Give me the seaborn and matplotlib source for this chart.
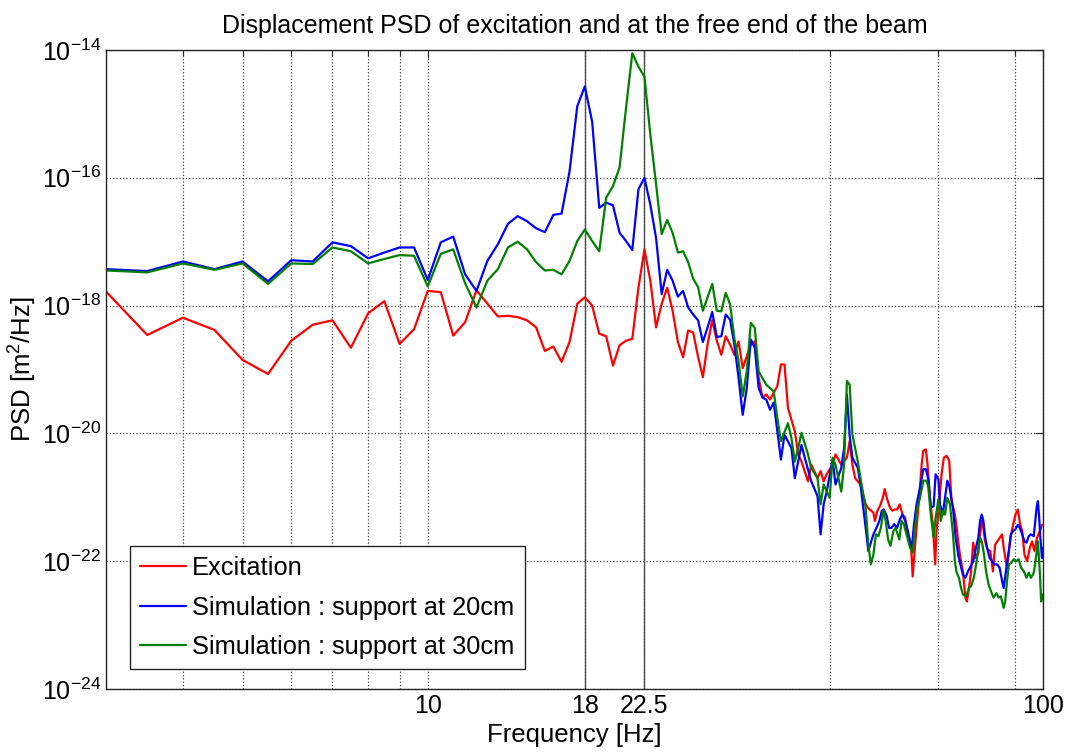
import numpy as np
import pandas as pd
import matplotlib
matplotlib.use('Agg')
import matplotlib.pyplot as plt
import seaborn as sns
from matplotlib.ticker import FixedLocator, NullLocator, NullFormatter, FuncFormatter

# Frequences communes (pas de 0.5 Hz) pour la partie basse du spectre
freq_low = [3.0, 3.5, 4.0, 4.5, 5.0, 5.5, 6.0, 6.5, 7.0, 7.5, 8.0, 8.5, 9.0, 9.5,
            10.0, 10.5, 11.0, 11.5, 12.0, 12.5, 13.0, 13.5, 14.0, 14.5, 15.0, 15.5,
            16.0, 16.5, 17.0, 17.5, 18.0, 18.5, 19.0, 19.5, 20.0, 20.5, 21.0, 21.5,
            22.0, 22.5, 23.0, 23.5, 24.0, 24.5, 25.0, 25.5, 26.0, 26.5, 27.0, 27.5,
            28.0, 28.5, 29.0, 29.5]

# log10(PSD)
exc_low = [-17.78, -18.46, -18.19, -18.38, -18.85, -19.07, -18.55, -18.30, -18.23, -18.66,
           -18.12, -17.93, -18.60, -18.37, -17.77, -17.79, -18.47, -18.26, -17.76, -17.97,
           -18.17, -18.16, -18.18, -18.23, -18.34, -18.71, -18.64, -18.88, -18.57, -17.97,
           -17.87, -18.00, -18.44, -18.48, -18.94, -18.62, -18.55, -18.52, -17.72, -17.12,
           -17.61, -18.34, -17.97, -17.72, -18.08, -18.57, -18.81, -18.39, -18.42, -18.80,
           -19.12, -18.60, -18.23, -18.55]
sim20_low = [-17.43, -17.46, -17.31, -17.43, -17.31, -17.62, -17.29, -17.31, -17.01, -17.07,
             -17.26, -17.17, -17.09, -17.09, -17.60, -17.01, -16.92, -17.51, -17.77, -17.30,
             -17.04, -16.72, -16.60, -16.68, -16.79, -16.85, -16.58, -16.56, -15.90, -14.88,
             -14.57, -15.12, -16.47, -16.39, -16.43, -16.86, -16.99, -17.13, -16.18, -16.00,
             -16.42, -16.94, -17.82, -17.44, -17.61, -17.86, -17.77, -18.03, -18.14, -18.23,
             -18.57, -18.34, -18.10, -18.49]
sim30_low = [-17.45, -17.48, -17.34, -17.44, -17.34, -17.66, -17.34, -17.35, -17.09, -17.15,
             -17.34, -17.27, -17.21, -17.22, -17.70, -17.19, -17.12, -17.65, -18.03, -17.61,
             -17.43, -17.09, -17.00, -17.12, -17.32, -17.45, -17.44, -17.51, -17.30, -16.99,
             -16.81, -16.99, -17.15, -16.31, -16.13, -15.84, -14.91, -14.05, -14.26, -14.42,
             -15.32, -16.10, -16.88, -16.66, -16.86, -17.17, -17.15, -17.32, -17.58, -17.71,
             -18.08, -17.87, -17.66, -18.08]

# Partie haute (>= 30 Hz)
exc_freq_high = [30.0, 30.5, 31.0, 31.5, 32.0, 32.5, 33.5, 34.0, 34.5, 35.0, 35.5, 36.0, 37.0,
                 37.5, 38.0, 38.5, 39.5, 40.0, 40.5, 41.5, 42.0, 43.0, 43.5, 44.0, 44.5, 45.5,
                 46.0, 47.0, 48.0, 48.5, 49.0, 49.5, 50.5, 51.5, 52.0, 53.0, 53.3, 53.8, 54.3,
                 54.9, 55.3, 55.8, 56.4, 56.9, 57.4, 57.9, 58.5, 59.1, 59.7, 60.3, 61.0, 61.4,
                 61.9, 62.5, 63.1, 63.5, 63.9, 64.5, 64.9, 65.5, 66.2, 66.8, 67.1, 67.7, 68.4,
                 69.0, 69.7, 70.4, 71.0, 71.9, 72.3, 72.8, 73.4, 74.1, 74.8, 75.2, 75.8, 76.4,
                 77.0, 77.8, 78.5, 79.0, 79.5, 80.0, 80.5, 81.3, 82.1, 82.9, 83.6, 84.7, 85.8,
                 86.3, 87.4, 88.5, 89.4, 90.2, 91.0, 91.7, 92.5, 93.3, 94.2, 95.2, 96.0, 96.8,
                 97.8, 98.8, 99.6]
exc_high = [-18.77, -18.48, -18.61, -18.77, -18.56, -18.98, -18.61, -18.56, -19.13, -19.44,
            -19.39, -19.47, -19.26, -18.92, -18.92, -19.60, -19.97, -20.33, -20.44, -20.75,
            -20.49, -20.70, -20.59, -20.75, -20.64, -20.49, -20.33, -20.49, -20.38, -20.12,
            -20.49, -20.70, -20.80, -21.11, -21.17, -21.24, -21.37, -21.21, -21.14, -21.01,
            -20.87, -21.03, -21.16, -21.21, -21.19, -21.19, -21.11, -21.27, -21.32, -21.58,
            -21.74, -22.24, -21.79, -21.32, -20.85, -20.48, -20.27, -20.25, -20.48, -21.01,
            -21.42, -22.05, -21.55, -21.16, -20.64, -20.38, -20.35, -20.43, -21.06, -21.27,
            -21.43, -21.69, -21.95, -22.16, -22.57, -22.63, -22.42, -22.16, -21.71, -21.95,
            -21.87, -21.58, -21.37, -21.48, -21.69, -21.82, -21.84, -22.16, -21.74, -21.66,
            -21.58, -21.79, -22.10, -21.63, -21.43, -21.27, -21.19, -21.40, -21.53, -21.90,
            -22.00, -21.79, -21.69, -21.84, -21.63, -21.53, -21.43]

sim20_freq_high = [30.0, 30.5, 31.0, 31.5, 32.0, 32.5, 33.0, 33.5, 34.0, 34.5, 35.0, 35.5, 36.0,
                   36.5, 37.5, 38.0, 39.0, 39.5, 40.5, 41.0, 42.0, 43.0, 43.5, 44.0, 44.5, 45.5,
                   46.0, 47.0, 47.5, 48.0, 48.5, 49.0, 50.0, 50.5, 51.5, 52.0, 53.0, 53.6, 54.2,
                   54.7, 55.1, 55.7, 56.2, 56.7, 57.3, 57.9, 58.5, 59.1, 59.7, 60.3, 60.8, 61.2,
                   61.7, 62.3, 63.1, 63.9, 64.5, 65.1, 65.7, 66.4, 66.9, 67.6, 68.0, 68.7, 69.3,
                   69.9, 70.4, 71.4, 72.1, 72.8, 73.4, 74.1, 74.8, 75.5, 76.1, 77.0, 77.8, 78.5,
                   79.0, 79.5, 80.0, 80.5, 81.1, 81.9, 82.6, 83.3, 84.2, 85.0, 85.8, 86.3, 87.2,
                   88.0, 88.7, 89.4, 90.2, 91.0, 91.7, 92.5, 93.3, 94.0, 94.8, 95.6, 96.6, 97.6,
                   98.1, 98.5, 99.0, 99.6, 100.0]
sim20_high = [-18.48, -18.14, -18.22, -18.61, -19.13, -19.71, -19.29, -18.53, -18.66, -19.29,
              -19.44, -19.47, -19.63, -19.52, -20.41, -20.02, -20.23, -20.70, -20.18, -20.38,
              -20.75, -20.98, -21.58, -21.11, -20.91, -20.41, -20.80, -20.54, -20.23, -19.39,
              -20.04, -20.38, -20.54, -20.80, -21.48, -21.84, -21.58, -21.48, -21.37, -21.21,
              -21.19, -21.29, -21.48, -21.48, -21.42, -21.48, -21.35, -21.27, -21.37, -21.53,
              -21.69, -21.79, -21.42, -21.11, -20.85, -20.56, -20.56, -20.72, -21.16, -21.14,
              -20.64, -20.72, -21.11, -21.27, -21.01, -20.74, -20.82, -21.17, -21.63, -21.90,
              -22.05, -22.21, -22.26, -22.16, -22.10, -22.00, -21.79, -21.63, -21.37, -21.27,
              -21.37, -21.61, -21.79, -21.95, -22.00, -22.05, -22.05, -22.10, -22.31, -22.42,
              -22.10, -21.84, -21.58, -21.53, -21.50, -21.43, -21.48, -21.58, -21.69, -21.71,
              -21.61, -21.58, -21.61, -21.17, -21.06, -21.27, -21.63, -21.95, -21.79]

sim30_freq_high = [30.0, 30.5, 31.0, 31.5, 32.0, 32.5, 33.0, 33.5, 34.0, 34.5, 35.5, 36.0, 36.5,
                   37.0, 37.5, 38.5, 39.0, 39.5, 40.0, 40.5, 41.5, 42.0, 43.0, 43.5, 44.0, 45.0,
                   45.5, 46.0, 47.0, 47.5, 48.0, 48.5, 49.0, 50.0, 50.5, 51.5, 52.0, 52.5, 53.0,
                   53.5, 54.0, 54.5, 55.0, 55.5, 56.0, 56.5, 57.1, 57.6, 58.4, 58.9, 59.4, 60.0,
                   60.8, 61.4, 61.9, 62.5, 63.1, 63.9, 64.7, 65.1, 65.7, 66.4, 66.9, 67.6, 68.2,
                   68.8, 69.3, 69.9, 70.6, 71.4, 71.9, 72.3, 73.0, 73.6, 74.1, 75.0, 75.8, 76.4,
                   77.2, 78.0, 78.5, 79.0, 79.6, 80.2, 80.8, 81.6, 82.3, 83.1, 84.0, 84.7, 85.4,
                   86.3, 86.8, 87.4, 88.0, 88.7, 89.6, 90.5, 91.3, 92.1, 93.1, 94.0, 94.8, 95.6,
                   96.6, 97.6, 98.1, 98.8, 99.3, 100.0]
sim30_high = [-18.09, -17.80, -17.98, -18.51, -18.87, -19.42, -19.03, -18.27, -18.35, -19.03,
              -19.24, -19.29, -19.34, -19.76, -20.12, -19.84, -20.07, -20.44, -20.23, -19.99,
              -20.33, -20.54, -20.70, -21.11, -20.80, -21.01, -20.38, -20.49, -20.91, -20.49,
              -19.18, -19.24, -20.02, -20.44, -20.70, -21.17, -21.74, -22.05, -21.90, -21.58,
              -21.61, -21.48, -21.21, -21.37, -21.66, -21.76, -21.53, -21.48, -21.66, -21.37,
              -21.42, -21.58, -21.79, -21.87, -21.48, -21.16, -21.01, -20.74, -20.74, -20.85,
              -21.27, -21.63, -21.32, -21.03, -21.37, -21.21, -21.27, -21.01, -21.11, -21.58,
              -22.00, -22.16, -22.26, -22.42, -22.52, -22.55, -22.42, -22.39, -22.26, -22.00,
              -21.79, -21.63, -21.71, -21.90, -22.16, -22.37, -22.47, -22.57, -22.50, -22.57,
              -22.55, -22.73, -22.63, -22.31, -22.05, -22.03, -21.97, -22.00, -21.97, -22.10,
              -22.16, -22.26, -22.18, -22.26, -22.18, -21.87, -21.69, -22.16, -22.63, -22.52]

labels = ['Excitation', 'Simulation : support at 20cm', 'Simulation : support at 30cm']
colors = ['#ff0000', '#0000ff', '#008000']
fmarks = [18, 22.5]

series = [(freq_low + exc_freq_high, exc_low + exc_high),
          (freq_low + sim20_freq_high, sim20_low + sim20_high),
          (freq_low + sim30_freq_high, sim30_low + sim30_high)]

sns.set_theme(style='white')
plt.rcParams['font.family'] = ['Liberation Sans', 'DejaVu Sans']
plt.rcParams['mathtext.fontset'] = 'custom'
plt.rcParams['mathtext.rm'] = 'Liberation Sans'
plt.rcParams['mathtext.it'] = 'Liberation Sans'
plt.rcParams['mathtext.default'] = 'regular'
plt.rcParams['text.color'] = 'black'
plt.rcParams['axes.labelcolor'] = 'black'

fig = plt.figure(figsize=(10.69, 7.53), dpi=100)
ax = fig.add_axes([0.0992, 0.085, 0.8765, 0.8486])
ax.set_xscale('log')
ax.set_yscale('log')

for (f, lp), lab, col in zip(series, labels, colors):
    d = pd.DataFrame({'freq': f, 'psd': 10.0 ** np.array(lp)})
    sns.lineplot(data=d, x='freq', y='psd', ax=ax, color=col, lw=1.6,
                 label=lab, estimator=None, sort=False)

for fm in fmarks:
    ax.axvline(fm, color='0.3', lw=1.0, zorder=1)

ax.set_xlim(3, 100)
ax.set_ylim(1e-24, 1e-14)

ax.set_xticks([10, 18, 22.5, 100])
ax.set_xticklabels(['10', '18', '22.5', '100'])
ax.xaxis.set_minor_locator(FixedLocator([4, 5, 6, 7, 8, 9, 45, 67.5, 90]))
ax.xaxis.set_minor_formatter(NullFormatter())
ax.set_yticks([1e-24, 1e-22, 1e-20, 1e-18, 1e-16, 1e-14])
ax.yaxis.set_major_formatter(FuncFormatter(lambda v, p: r'$10^{%d}$' % round(np.log10(v))))
ax.yaxis.set_minor_locator(NullLocator())

ax.tick_params(which='both', direction='in', top=True, right=True, colors='0.15',
               labelcolor='black', labelsize=18)
ax.tick_params(which='major', length=6, width=0.8)
ax.tick_params(which='minor', length=4, width=0.8)

ax.grid(True, which='major', linestyle=':', color='0.25', lw=0.9)
ax.grid(True, which='minor', axis='x', linestyle=':', color='0.25', lw=0.9)
for s in ax.spines.values():
    s.set_color('0.15')
    s.set_linewidth(1.0)

ax.set_title('Displacement PSD of excitation and at the free end of the beam',
             fontsize=18, pad=12, color='black')
ax.set_xlabel('Frequency [Hz]', fontsize=18.5, labelpad=4)
ax.set_ylabel('PSD [m$^2$/Hz]', fontsize=18.5, labelpad=2)

leg = ax.legend(loc='lower left', bbox_to_anchor=(0.0256, 0.0313), borderaxespad=0,
                fontsize=18.3, handlelength=1.8, handletextpad=0.25, labelspacing=0.6,
                borderpad=0.4, fancybox=False, framealpha=1)
leg.get_frame().set_edgecolor('0.15')
leg.get_frame().set_linewidth(1.0)
for t in leg.get_texts():
    t.set_color('black')

fig.savefig('out.png', dpi=100)
